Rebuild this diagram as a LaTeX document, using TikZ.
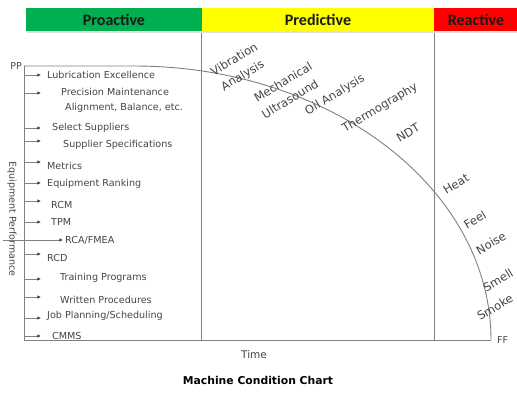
\documentclass[tikz,border=0pt]{standalone}
\usepackage{fontspec}
\setmainfont{DejaVu Sans}
\newfontfamily\hdrfont{Carlito}
\usetikzlibrary{arrows.meta}
\definecolor{proG}{HTML}{00B050}
\definecolor{preY}{HTML}{FFFF00}
\definecolor{reaR}{HTML}{FF0000}
\definecolor{lineG}{HTML}{808080}
\definecolor{txtG}{HTML}{444444}
\tikzset{
  hdr/.style={font=\hdrfont\bfseries\fontsize{16}{18}\selectfont, text=black!90, inner sep=0pt},
  axisline/.style={draw=lineG, line width=0.9pt},
  item/.style={font=\fontsize{9.6}{11}\selectfont, text=txtG, anchor=west, inner sep=0pt},
  arr/.style={draw=lineG, line width=0.8pt, -{Latex[length=3.6pt,width=3.4pt,color=black!75]}},
  tech/.style={font=\fontsize{11.6}{13}\selectfont, text=txtG, inner sep=0pt, rotate=31},
  small/.style={font=\fontsize{9.5}{11}\selectfont, text=txtG, inner sep=0pt},
}
\begin{document}
\begin{tikzpicture}[x=1pt,y=-1pt]
\useasboundingbox (0,0) rectangle (517,392);
% header bands
\fill[black!12] (27,31) rectangle (517,33);
\fill[proG] (26,8) rectangle (202,31);
\fill[preY] (202,8) rectangle (434,31);
\fill[reaR] (434,8) rectangle (517,31);
\node[hdr] (hpro) at (114,20) {Proactive};
\node[hdr] (hpre) at (318,20) {Predictive};
\node[hdr] (hrea) at (476,20) {Reactive};
% axes and dividers
\coordinate (pp) at (24,66);
\coordinate (origin) at (24,340);
\coordinate (ff) at (491,340);
\draw[axisline] (pp) -- (origin) -- (ff);
\draw[axisline] (201,33) -- (201,340);
\draw[axisline] (434,33) -- (434,340);
% condition curve
\draw[axisline] (pp) -- (134,66) arc[start angle=-90, end angle=0, x radius=357, y radius=274];
\node[small, anchor=east] (ppl) at (22,66) {PP};
\node[small, anchor=west] (ffl) at (497,340) {FF};
\node[small, rotate=-90] (ylab) at (12,219) {Equipment Performance};
\node[font=\fontsize{10.5}{12}\selectfont, text=txtG, inner sep=0pt] (xlab) at (254,355) {Time};
\node[font=\fontsize{10.8}{12}\selectfont\bfseries, text=black, inner sep=0pt] (title) at (258,380) {Machine Condition Chart};
% proactive items
\foreach \y [count=\i] in {75,93,128,141,162,183,201,222,254,279,297,318,336} {
  \coordinate (as\i) at (24,\y);
  \coordinate (ae\i) at (41,\y);
  \draw[arr] (as\i) -- (ae\i);
}
\coordinate (rcas) at (3,240);
\coordinate (rcae) at (63,240);
\draw[arr] (rcas) -- (rcae);
\node[item] (i1) at (47,75) {Lubrication Excellence};
\node[item] (i2) at (61,92) {Precision Maintenance};
\node[item] (i2b) at (65,108) {Alignment, Balance, etc.};
\node[item] (i3) at (52,128) {Select Suppliers};
\node[item] (i4) at (63,145) {Supplier Specifications};
\node[item] (i5) at (47,166) {Metrics};
\node[item] (i6) at (47,184) {Equipment Ranking};
\node[item] (i7) at (51,205) {RCM};
\node[item] (i8) at (51,222) {TPM};
\node[item] (i9) at (65,240) {RCA/FMEA};
\node[item] (i10) at (47,258) {RCD};
\node[item] (i11) at (60,278) {Training Programs};
\node[item] (i12) at (60,300) {Written Procedures};
\node[item] (i13) at (47,316) {Job Planning/Scheduling};
\node[item] (i14) at (52,336) {CMMS};
% predictive labels
\node[tech] (t1) at (234,59) {Vibration};
\node[tech] (t2) at (243,76) {Analysis};
\node[tech] (t3) at (283,82) {Mechanical};
\node[tech] (t4) at (290,99) {Ultrasound};
\node[tech] (t5) at (335,95) {Oil Analysis};
\node[tech] (t6) at (380,108) {Thermography};
\node[tech] (t7) at (408,133) {NDT};
% reactive labels
\node[tech] (r1) at (456,184) {Heat};
\node[tech] (r2) at (475,220) {Feel};
\node[tech] (r3) at (491,243) {Noise};
\node[tech] (r4) at (498,280) {Smell};
\node[tech] (r5) at (495,307) {Smoke};
\end{tikzpicture}
\end{document}
